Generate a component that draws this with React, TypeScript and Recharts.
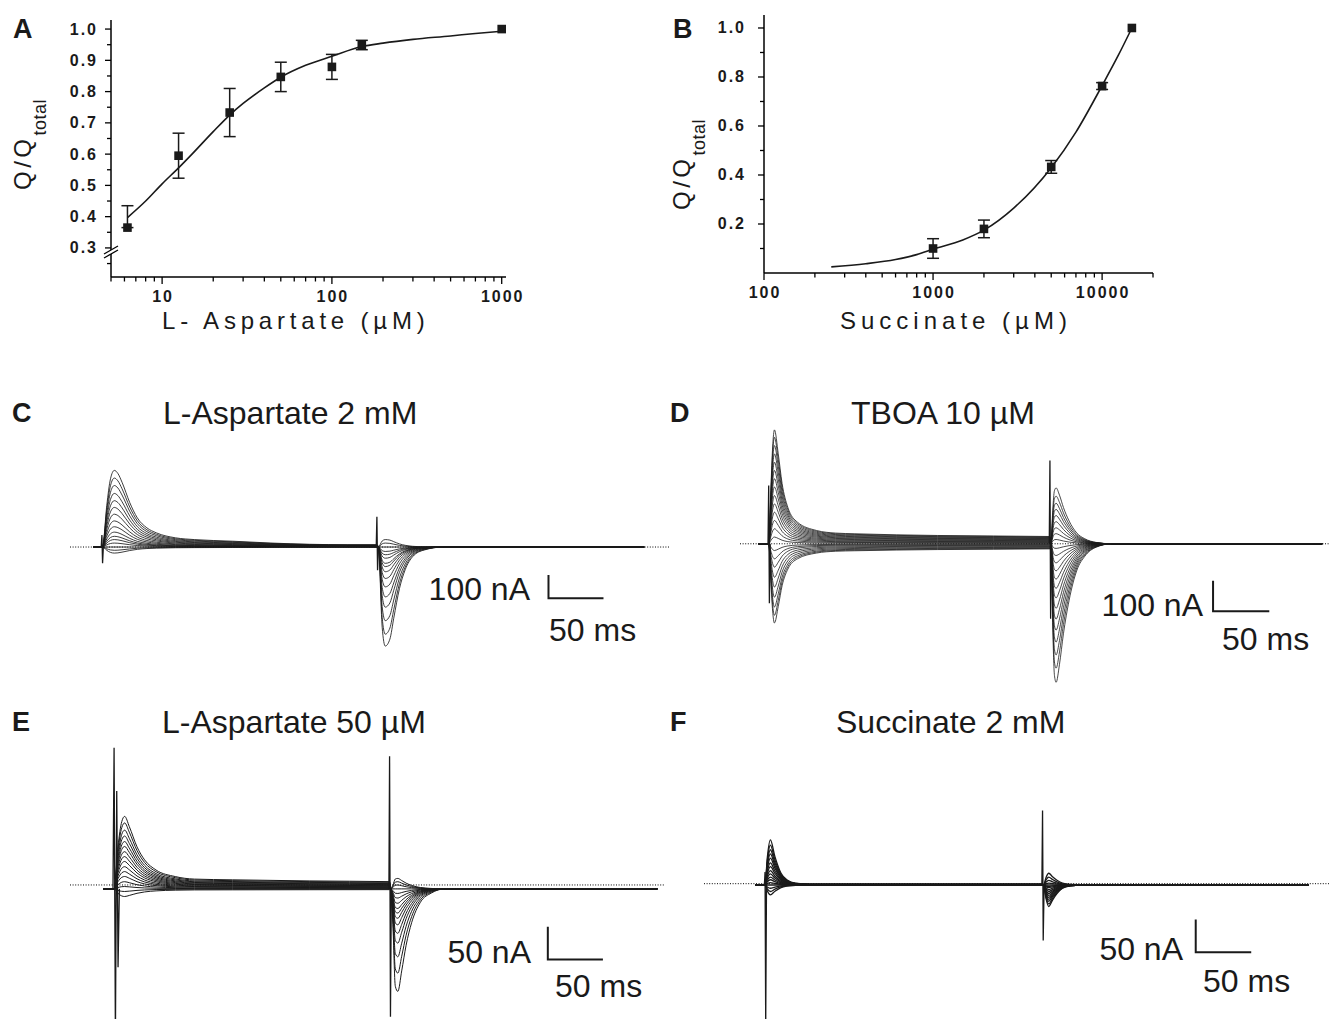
import React from 'react';
import { ComposedChart, LineChart, Line, Scatter, ErrorBar, XAxis, YAxis, ReferenceLine } from 'recharts';

const FONT = '"Liberation Sans", Arial, Helvetica, sans-serif';
const INK = '#1a1a1a';

// ---- A: L-aspartate dose response (Q/Qtotal)
const aspConc = [6.25, 12.5, 25, 50, 100, 150, 1000];
const aspQ = [0.365, 0.595, 0.733, 0.847, 0.879, 0.949, 1.0];
const aspErr: (number | [number, number] | null)[] = [[0, 0.07], 0.072, 0.077, 0.047, 0.04, 0.015, null];
const aspFitConc = [6.25, 8, 10, 12.5, 15, 20, 25, 30, 40, 50, 70, 100, 150, 200, 300, 500, 700, 1000];
const aspFitQ = [0.397, 0.45, 0.505, 0.556, 0.6, 0.672, 0.725, 0.762, 0.812, 0.846, 0.884, 0.913, 0.944, 0.955, 0.967, 0.978, 0.986, 0.993];
const aspXTicks = [5, 6, 7, 8, 9, 10, 20, 30, 40, 50, 60, 70, 80, 90, 100, 200, 300, 400, 500, 600, 700, 800, 900, 1000];
const aspXMajor = [10, 100, 1000];
const aspYTicks = [0.25, 0.3, 0.35, 0.4, 0.45, 0.5, 0.55, 0.6, 0.65, 0.7, 0.75, 0.8, 0.85, 0.9, 0.95, 1.0];

// ---- B: succinate dose response
const sucConc = [1000, 2000, 5000, 10000, 15000];
const sucQ = [0.1, 0.18, 0.433, 0.763, 1.0];
const sucErr: (number | null)[] = [0.04, 0.036, 0.026, 0.014, null];
const sucFitConc = [250, 400, 600, 800, 1000, 1500, 2000, 3000, 5000, 7000, 10000, 12500, 15000];
const sucFitQ = [0.025, 0.038, 0.055, 0.075, 0.097, 0.135, 0.175, 0.265, 0.43, 0.575, 0.765, 0.89, 1.0];
const sucXTicks = [100, 200, 300, 400, 500, 600, 700, 800, 900, 1000, 2000, 3000, 4000, 5000, 6000, 7000, 8000, 9000, 10000, 20000];
const sucXMajor = [100, 1000, 10000];
const sucYTicks = [0.1, 0.2, 0.3, 0.4, 0.5, 0.6, 0.7, 0.8, 0.9, 1.0];

// ---- C: L-Aspartate 2 mM traces (ms, nA)
const cOnTimes = [-8, 0, 0.9, 4.4, 7.8, 11.3, 14.5, 18.3, 25.3, 32.2, 40.9, 49.5, 67, 84.4, 119, 153.6, 223.6, 250];
const cOnShape = [0, 0, 0.02, 0.54, 0.89, 1.0, 0.96, 0.845, 0.58, 0.38, 0.25, 0.185, 0.12, 0.097, 0.076, 0.052, 0.03, 0.03];
const cOffTimes = [251.4, 254.8, 257.6, 261.8, 265.3, 270.5, 275.7, 282.7, 293, 310.5, 493];
const cOffShape = [0, 0.81, 1.0, 0.93, 0.72, 0.42, 0.23, 0.095, 0.03, 0, 0];
const cOnAmps = [329, 296, 264, 230, 199, 170, 141, 112, 87, 64, 46, 32, 17, 0, -14, -26];
const cOffAmps = [-425, -374, -316, -258, -214, -171, -135, -106, -84, -70, -48, -33, -19, 0, 17, 32];
const cStimOn = [[-0.6, 0], [0, 52], [0.6, -70], [1.3, 0]];
const cStimOff = [[249.4, 0], [250, 130], [250.6, -100], [251.4, 0]];

// ---- D: TBOA 10 uM traces
const dOnTimes = [-9, 0, 2, 3.5, 5.1, 8.5, 11.9, 17, 25.5, 42.5, 59.6, 76.6, 150, 250];
const dOnShape = [0, 0, 0.5, 0.85, 1.0, 0.79, 0.53, 0.32, 0.19, 0.117, 0.094, 0.088, 0.073, 0.064];
const dOffTimes = [251, 252.5, 254, 255.5, 258.5, 262, 267, 274, 281, 291, 305, 492];
const dOffShape = [0, 0.6, 0.95, 1.0, 0.87, 0.65, 0.41, 0.19, 0.09, 0.025, 0, 0];
const dOnAmps = [371, 347, 320, 293, 266, 239, 212, 185, 157, 130, 103, 76, 49, 22, -22, -49, -76, -109, -141, -174, -206, -233, -258];
const dOffAmps = [-451, -405, -362, -320, -281, -245, -210, -176, -145, -115, -88, -62, -38, -15, 14, 33, 52, 72, 92, 112, 132, 155, 182];
const dStimOn = [[-0.6, 0], [0, 190], [0.6, -194], [1.3, 0]];
const dStimOff = [[249.4, 0], [250, 271], [250.6, -244], [251.4, 0]];

// ---- E: L-Aspartate 50 uM traces
const eOnTimes = [-10, 0, 3.5, 7, 9.6, 13.8, 20.8, 27.7, 38.1, 55.5, 72.9, 107.6, 177, 250];
const eOnShape = [0, 0, 0.58, 0.93, 1.0, 0.86, 0.58, 0.4, 0.26, 0.17, 0.135, 0.125, 0.11, 0.1];
const eOffTimes = [251, 253, 255.2, 257.5, 261, 265, 270, 278, 288, 300, 493];
const eOffShape = [0, 0.35, 0.95, 1.0, 0.8, 0.55, 0.33, 0.13, 0.04, 0, 0];
const eOnAmps = [111, 101, 90, 81, 72.5, 65, 57, 49.5, 42, 34, 26.5, 19, 11, 3.6, -4, -11.7];
const eOffAmps = [-157, -129, -104, -83, -68, -55, -45, -37, -30, -22, -14, -7, 0, 6, 11, 16];
const eStimOn = [[-1, 0], [0, 216], [1.2, -230], [2.4, 150], [3.6, -120], [4.8, 0]];
const eStimOff = [[249.4, 0], [250, 203], [250.8, -196], [251.6, 0]];

// ---- F: Succinate 2 mM traces
const fOnTimes = [-9, 0, 2, 4.8, 8.9, 14.4, 19.9, 27.3, 40, 250];
const fOnShape = [0, 0, 0.6, 1.0, 0.63, 0.26, 0.11, 0.04, 0.02, 0.02];
const fOffTimes = [251, 253, 255.6, 259, 263, 268, 275, 285, 490];
const fOffShape = [0, 0.6, 1.0, 0.7, 0.4, 0.15, 0.04, 0, 0];
const fOnAmps = [69, 61, 54, 47.5, 41, 34, 28, 22, 17, 12, 8, 3.6, 0, -5, -10, -15];
const fOffAmps = [-33, -29, -25, -22, -19, -16, -13, -10, -7, -4, -2, 0, 3, 7, 12, 18];
const fStimOn = [[-0.6, 0], [0, 20], [0.6, -215], [1.3, 0]];
const fStimOff = [[249.4, 0], [250, 114], [250.6, -85], [251.4, 0]];

type Pt = { t: number; v: number };

const buildTraces = (onT: number[], onS: number[], offT: number[], offS: number[], onA: number[], offA: number[], offset: number): Pt[][] =>
  onA.map((a, i) => [
    ...onT.map((t, k) => ({ t, v: offset + a * onS[k] })),
    ...offT.map((t, k) => ({ t, v: offset + offA[i] * offS[k] })),
  ]);

const toPts = (arr: number[][], offset: number): Pt[] => arr.map(([t, v]) => ({ t, v: v + offset }));

const isMajorTenth = (v: number) => Math.abs(v * 10 - Math.round(v * 10)) < 1e-6;

const XTick = (props: any) => {
  const { x, y, payload, majors } = props;
  const major = majors.includes(payload.value);
  return (
    <g>
      <line x1={x} x2={x} y1={y} y2={y + (major ? 7 : 4.5)} stroke="#000" strokeWidth={1.3} />
      {major && (
        <text x={x + 1} y={y + 25} textAnchor="middle" fontFamily={FONT} fontWeight="bold" fontSize={16} letterSpacing={2} fill={INK}>
          {payload.value}
        </text>
      )}
    </g>
  );
};

const YTick = (props: any) => {
  const { x, y, payload, gap, labelEvery } = props;
  const v = payload.value;
  const major = labelEvery === 0.1 ? isMajorTenth(v) : Math.abs(v * 5 - Math.round(v * 5)) < 1e-6;
  return (
    <g>
      <line x1={x - (major ? 6 : 4)} x2={x} y1={y} y2={y} stroke="#000" strokeWidth={1.3} />
      {major && (
        <text x={x - gap} y={y + 5.5} textAnchor="end" fontFamily={FONT} fontWeight="bold" fontSize={16} letterSpacing={2} fill={INK}>
          {v.toFixed(1)}
        </text>
      )}
    </g>
  );
};

const DoseChart = (props: any) => {
  const { left, top, width, height, margin, xDomain, yDomain, xTicks, xMajor, yTicks, labelEvery, gap, points, fit } = props;
  return (
    <div style={{ position: 'absolute', left, top }}>
      <ComposedChart width={width} height={height} margin={margin}>
        <XAxis
          dataKey="x"
          type="number"
          scale="log"
          domain={xDomain}
          allowDataOverflow
          ticks={xTicks}
          interval={0}
          height={40}
          tickSize={0}
          tickMargin={0}
          tickLine={false}
          axisLine={{ stroke: '#000', strokeWidth: 1.5 }}
          tick={(p: any) => <XTick {...p} majors={xMajor} />}
        />
        <YAxis
          dataKey="y"
          type="number"
          domain={yDomain}
          allowDataOverflow
          ticks={yTicks}
          interval={0}
          width={100}
          tickSize={0}
          tickMargin={0}
          tickLine={false}
          axisLine={{ stroke: '#000', strokeWidth: 1.5 }}
          tick={(p: any) => <YTick {...p} gap={gap} labelEvery={labelEvery} />}
        />
        <Line data={fit} dataKey="y" type="monotone" dot={false} stroke={INK} strokeWidth={1.6} isAnimationActive={false} />
        <Scatter
          data={points}
          fill={INK}
          isAnimationActive={false}
          shape={(p: any) => <rect x={p.cx - 4.3} y={p.cy - 4.3} width={8.6} height={8.6} fill={INK} />}
        >
          <ErrorBar dataKey="err" direction="y" width={6} stroke={INK} strokeWidth={1.5} />
        </Scatter>
      </ComposedChart>
    </div>
  );
};

const TracePanel = (props: any) => {
  const { x0, zeroY, msPx, nAPx, tDomain, iDomain, traces, stims, bar, strokeW } = props;
  const width = (tDomain[1] - tDomain[0]) * msPx;
  const height = (iDomain[1] - iDomain[0]) * nAPx;
  const left = x0 + tDomain[0] * msPx;
  const top = zeroY - iDomain[1] * nAPx;
  const barPts = [
    { t: bar.t, v: bar.i + bar.di },
    { t: bar.t, v: bar.i },
    { t: bar.t + bar.dt, v: bar.i },
  ];
  return (
    <div style={{ position: 'absolute', left, top }}>
      <LineChart width={width} height={height} margin={{ top: 0, right: 0, bottom: 0, left: 0 }}>
        <XAxis dataKey="t" type="number" domain={tDomain} allowDataOverflow hide />
        <YAxis type="number" domain={iDomain} allowDataOverflow hide />
        <ReferenceLine y={0} stroke="#000" strokeWidth={1} strokeDasharray="1 1.6" />
        {traces.map((tr: Pt[], i: number) => (
          <Line key={`tr-${i}`} data={tr} dataKey="v" type="monotone" dot={false} stroke={INK} strokeWidth={strokeW} isAnimationActive={false} />
        ))}
        {stims.map((s: Pt[], i: number) => (
          <Line key={`st-${i}`} data={s} dataKey="v" type="linear" dot={false} stroke={INK} strokeWidth={1.3} isAnimationActive={false} />
        ))}
        <Line data={barPts} dataKey="v" type="linear" dot={false} stroke={INK} strokeWidth={2} isAnimationActive={false} />
      </LineChart>
    </div>
  );
};

const T = (p: any) => (
  <text
    x={p.x}
    y={p.y}
    textAnchor={p.anchor || 'start'}
    fontFamily={FONT}
    fontSize={p.size}
    fontWeight={p.bold ? 'bold' : 'normal'}
    letterSpacing={p.ls || 0}
    fill={INK}
  >
    {p.children}
  </text>
);

export default function App() {
  const aspPoints = aspConc.map((x, i) => ({ x, y: aspQ[i], err: aspErr[i] }));
  const aspFit = aspFitConc.map((x, i) => ({ x, y: aspFitQ[i] }));
  const sucPoints = sucConc.map((x, i) => ({ x, y: sucQ[i], err: sucErr[i] }));
  const sucFit = sucFitConc.map((x, i) => ({ x, y: sucFitQ[i] }));

  const cTraces = buildTraces(cOnTimes, cOnShape, cOffTimes, cOffShape, cOnAmps, cOffAmps, 0);
  const dTraces = buildTraces(dOnTimes, dOnShape, dOffTimes, dOffShape, dOnAmps, dOffAmps, 0);
  const eTraces = buildTraces(eOnTimes, eOnShape, eOffTimes, eOffShape, eOnAmps, eOffAmps, -6);
  const fTraces = buildTraces(fOnTimes, fOnShape, fOffTimes, fOffShape, fOnAmps, fOffAmps, -2);

  return (
    <div style={{ position: 'absolute', left: 0, top: 0, width: 1330, height: 1019, background: '#fff', overflow: 'hidden' }}>
      <DoseChart
        left={0}
        top={0}
        width={526}
        height={317}
        margin={{ top: 20, right: 20, bottom: 0, left: 11 }}
        xDomain={[5, 1060]}
        yDomain={[0.207, 1.029]}
        xTicks={aspXTicks}
        xMajor={aspXMajor}
        yTicks={aspYTicks}
        labelEvery={0.1}
        gap={13}
        points={aspPoints}
        fit={aspFit}
      />
      <DoseChart
        left={664}
        top={0}
        width={509}
        height={313}
        margin={{ top: 15, right: 20, bottom: 0, left: 0 }}
        xDomain={[100, 20000]}
        yDomain={[0, 1.053]}
        xTicks={sucXTicks}
        xMajor={sucXMajor}
        yTicks={sucYTicks}
        labelEvery={0.2}
        gap={18}
        points={sucPoints}
        fit={sucFit}
      />

      <TracePanel x0={102} zeroY={547} msPx={1.1} nAPx={0.233} tDomain={[-29, 516]} iDomain={[-506, 395]}
        traces={cTraces} stims={[toPts(cStimOn, 0), toPts(cStimOff, 0)]} bar={{ t: 406, i: -220, dt: 50, di: 100 }} strokeW={0.85} />
      <TracePanel x0={768.7} zeroY={543.3} msPx={1.125} nAPx={0.307} tDomain={[-25.5, 499]} iDomain={[-510, 400]}
        traces={dTraces} stims={[toPts(dStimOn, 0), toPts(dStimOff, 0)]} bar={{ t: 395, i: -220, dt: 50, di: 100 }} strokeW={0.8} />
      <TracePanel x0={114.4} zeroY={885} msPx={1.102} nAPx={0.653} tDomain={[-40, 500]} iDomain={[-232, 222]}
        traces={eTraces} stims={[toPts(eStimOn, -6), toPts(eStimOff, -6)]} bar={{ t: 393.6, i: -114, dt: 50, di: 50 }} strokeW={1} />
      <TracePanel x0={765.5} zeroY={884} msPx={1.11} nAPx={0.653} tDomain={[-55, 508]} iDomain={[-220, 145]}
        traces={fTraces} stims={[toPts(fStimOn, -2), toPts(fStimOff, -2)]} bar={{ t: 388, i: -105, dt: 50, di: 50 }} strokeW={1.3} />

      <svg width={1330} height={1019} style={{ position: 'absolute', left: 0, top: 0, pointerEvents: 'none' }}>
        {/* axis break on A */}
        <polygon points="104,254 118,246 118,250 104,258" fill="#fff" />
        <line x1={104} y1={254} x2={118} y2={246} stroke="#000" strokeWidth={1.3} />
        <line x1={104} y1={258} x2={118} y2={250} stroke="#000" strokeWidth={1.3} />

        <T x={13} y={38} size={27} bold>A</T>
        <T x={673} y={38} size={27} bold>B</T>
        <T x={12} y={422} size={27} bold>C</T>
        <T x={670} y={422} size={27} bold>D</T>
        <T x={12} y={731} size={27} bold>E</T>
        <T x={670} y={731} size={27} bold>F</T>

        <T x={162} y={329} size={24} ls={4.8}>L- Aspartate (µM)</T>
        <T x={840} y={329} size={24} ls={5}>Succinate (µM)</T>

        <text transform="translate(31,190) rotate(-90)" fontFamily={FONT} fontSize={24} letterSpacing={3.5} fill={INK}>
          Q/Q<tspan fontSize={18} dy={15} letterSpacing={0.5}>total</tspan>
        </text>
        <text transform="translate(690,210) rotate(-90)" fontFamily={FONT} fontSize={24} letterSpacing={3.5} fill={INK}>
          Q/Q<tspan fontSize={18} dy={15} letterSpacing={0.5}>total</tspan>
        </text>

        <T x={163} y={424} size={32}>L-Aspartate 2 mM</T>
        <T x={851} y={424} size={32}>TBOA 10 µM</T>
        <T x={162} y={733} size={32}>L-Aspartate 50 µM</T>
        <T x={836} y={733} size={32}>Succinate 2 mM</T>

        <T x={530} y={600} size={32} anchor="end">100 nA</T>
        <T x={549} y={641} size={32}>50 ms</T>
        <T x={1203} y={616} size={32} anchor="end">100 nA</T>
        <T x={1222} y={650} size={32}>50 ms</T>
        <T x={531} y={963} size={32} anchor="end">50 nA</T>
        <T x={555} y={997} size={32}>50 ms</T>
        <T x={1183} y={960} size={32} anchor="end">50 nA</T>
        <T x={1203} y={992} size={32}>50 ms</T>
      </svg>
    </div>
  );
}
